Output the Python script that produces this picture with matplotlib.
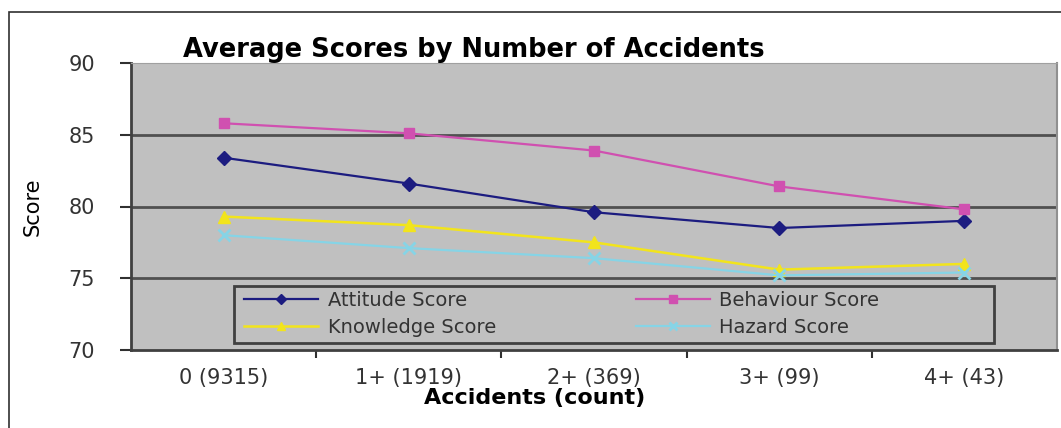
import matplotlib
matplotlib.use("Agg")
import matplotlib.pyplot as plt
from matplotlib.patches import Rectangle
import numpy as np

categories = ["0 (9315)", "1+ (1919)", "2+ (369)", "3+ (99)", "4+ (43)"]
attitude = [83.4, 81.6, 79.6, 78.5, 79.0]
behaviour = [85.8, 85.1, 83.9, 81.4, 79.8]
knowledge = [79.3, 78.7, 77.5, 75.6, 76.0]
hazard = [78.0, 77.1, 76.4, 75.2, 75.4]

plt.rcParams["font.family"] = ["DejaVu Sans"]

fig = plt.figure(figsize=(10.61, 4.28), dpi=100)
ax = fig.add_axes([131 / 1061, 78 / 428, 926 / 1061, 287 / 428])
ax.set_facecolor("#c0c0c0")

# outer frame of the picture (right/bottom edges fall off the image)
fig.add_artist(Rectangle((9 / 1061, -0.2), 1.2, 1.2 - 12 / 428,
                         transform=fig.transFigure, fill=False,
                         edgecolor="#303030", lw=1.2))

x = np.arange(len(categories)) + 0.5
l1, = ax.plot(x, attitude, color="#1c1c80", lw=1.6, marker="D", ms=7, label="Attitude Score")
l2, = ax.plot(x, behaviour, color="#d050b0", lw=1.6, marker="s", ms=7, label="Behaviour Score")
l3, = ax.plot(x, knowledge, color="#f2e41c", lw=1.8, marker="^", ms=8, label="Knowledge Score")
l4, = ax.plot(x, hazard, color="#86d4e6", lw=1.6, marker="x", ms=8, mew=2, label="Hazard Score")

ax.set_xlim(0, len(categories))
ax.set_ylim(70, 90)
ax.set_yticks([70, 75, 80, 85, 90])
for yv in [75, 80, 85]:
    ax.axhline(yv, color="#505050", lw=2, zorder=1)

ax.set_xticks(np.arange(1, len(categories)))
ax.set_xticklabels([])
ax.set_xticks(x, minor=True)
ax.set_xticklabels(categories, minor=True)
ax.tick_params(axis="x", which="major", length=6, width=1.5, color="#303030")
ax.tick_params(axis="x", which="minor", length=0, labelsize=15, pad=13, labelcolor="#333333")
ax.tick_params(axis="y", length=8, width=1.5, color="#303030", labelsize=15,
               pad=18, labelcolor="#333333")

ax.spines["left"].set_color("#404040")
ax.spines["left"].set_linewidth(2)
ax.spines["bottom"].set_color("#404040")
ax.spines["bottom"].set_linewidth(2)
ax.spines["top"].set_color("#a0a0a0")
ax.spines["right"].set_color("#909090")
ax.spines["right"].set_linewidth(1.5)

ax.set_xlabel("Accidents (count)", fontsize=16, fontweight="bold", va="center")
ax.xaxis.set_label_coords((535 - 131) / 926, (350 - 398) / 287)
ax.set_ylabel("Score", fontsize=15, va="center")
ax.yaxis.set_label_coords((33 - 131) / 926, (350 - 207) / 287)

fig.text(183 / 1061, 1 - 50 / 428, "Average Scores by Number of Accidents",
         fontsize=18.5, fontweight="bold", ha="left", va="center")

# legend box
ax.add_patch(Rectangle(((234 - 131) / 926, (350 - 343) / 287), 760 / 926, 57 / 287,
                       transform=ax.transAxes, facecolor="#c0c0c0",
                       edgecolor="#404040", lw=2, zorder=4))
leg = ax.legend([l1, l3, l2, l4],
                ["Attitude Score", "Knowledge Score", "Behaviour Score", "Hazard Score"],
                ncol=2, loc="upper left",
                bbox_to_anchor=((240 - 131) / 926, (350 - 287) / 287),
                fontsize=14, frameon=False, handlelength=3.8, borderaxespad=0,
                labelspacing=0.4, borderpad=0.2, columnspacing=7.2,
                handletextpad=0.5, markerscale=0.8)
leg.set_zorder(5)
for t in leg.get_texts():
    t.set_color("#333333")

fig.savefig("out.png", dpi=100)
